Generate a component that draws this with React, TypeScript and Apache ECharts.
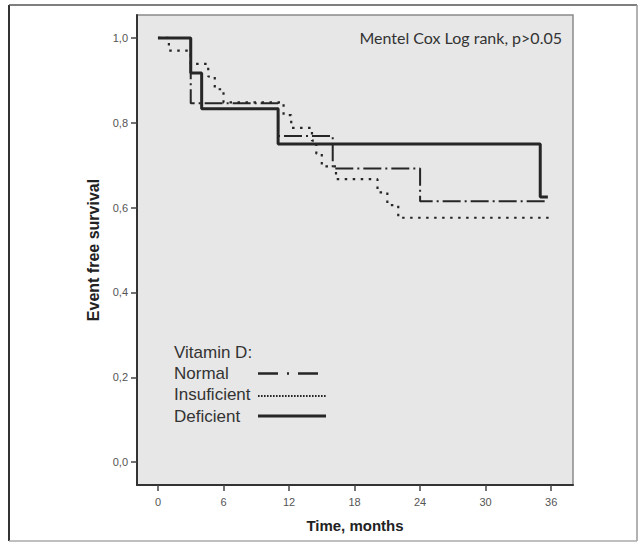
import React, { useEffect, useRef } from "react";
import * as echarts from "echarts";

// Kaplan-Meier curves: [time in months, survival after event]
const normalCurve: [number, number][] = [
  [0, 1], [3, 0.846], [11, 0.769], [16, 0.692], [24, 0.615], [35.7, 0.615],
];
const insufficientCurve: [number, number][] = [
  [0, 1], [1, 0.970], [3, 0.939], [4.6, 0.909], [5.2, 0.879], [6, 0.848],
  [11.5, 0.818], [12.2, 0.788], [14.1, 0.758], [14.5, 0.727], [15, 0.697],
  [16.3, 0.667], [20.1, 0.636], [21, 0.606], [22, 0.576], [36, 0.576],
];
const deficientCurve: [number, number][] = [
  [0, 1], [3, 0.917], [4, 0.833], [11, 0.75], [35, 0.625], [35.7, 0.625],
];
const xTicks = [0, 6, 12, 18, 24, 30, 36];
const yTicks = [0, 0.2, 0.4, 0.6, 0.8, 1.0];
const legendTitle = "Vitamin D:";
const seriesNames = ["Normal", "Insuficient", "Deficient"];
const annotation = "Mentel Cox Log rank, p>0.05";
const xName = "Time, months";
const yName = "Event free survival";

const FONT = "Liberation Sans, Arial, sans-serif";
const LINE = "#262626";

export default function App() {
  const ref = useRef<HTMLDivElement>(null);
  useEffect(() => {
    if (!ref.current) return;
    const chart = echarts.init(ref.current, null, { renderer: "svg" });
    const legendX = 174;
    const legendRows = [373, 394, 416];
    const lineX1 = 258;
    const lineX2 = 326;
    const option: any = {
      animation: false,
      backgroundColor: "#ffffff",
      grid: {
        left: 137,
        top: 15,
        right: 70,
        bottom: 58,
        show: true,
        backgroundColor: "#e7e7e7",
        borderColor: "#8a8a8a",
        borderWidth: 1.5,
      },
      xAxis: {
        type: "value",
        min: -1.92,
        max: 38,
        name: xName,
        nameLocation: "middle",
        nameGap: 33,
        nameTextStyle: { fontFamily: FONT, fontWeight: "bold", fontSize: 15, color: "#222" },
        axisLine: { show: true, onZero: false, lineStyle: { color: "#333", width: 2 } },
        axisTick: { show: true, customValues: xTicks, length: 6, lineStyle: { color: "#444", width: 1.5 } },
        axisLabel: {
          customValues: xTicks,
          fontFamily: FONT,
          fontSize: 11,
          color: "#555",
          margin: 11,
          formatter: (v: number) => String(v),
        },
        splitLine: { show: false },
      },
      yAxis: {
        type: "value",
        min: -0.054,
        max: 1.054,
        name: yName,
        nameLocation: "middle",
        nameGap: 35,
        nameTextStyle: { fontFamily: FONT, fontWeight: "bold", fontSize: 16, color: "#222" },
        axisLine: { show: true, onZero: false, lineStyle: { color: "#333", width: 2 } },
        axisTick: { show: true, customValues: yTicks, length: 6, lineStyle: { color: "#444", width: 1.5 } },
        axisLabel: {
          customValues: yTicks,
          fontFamily: FONT,
          fontSize: 11,
          color: "#555",
          margin: 9,
          formatter: (v: number) => v.toFixed(1).replace(".", ","),
        },
        splitLine: { show: false },
      },
      series: [
        {
          name: seriesNames[0],
          type: "line",
          step: "end",
          symbol: "none",
          data: normalCurve,
          lineStyle: { color: LINE, width: 2, type: [18, 4, 2, 4] },
          z: 3,
        },
        {
          name: seriesNames[1],
          type: "line",
          step: "end",
          symbol: "none",
          data: insufficientCurve,
          lineStyle: { color: LINE, width: 2.2, type: [2.5, 5.5] },
          z: 2,
        },
        {
          name: seriesNames[2],
          type: "line",
          step: "end",
          symbol: "none",
          data: deficientCurve,
          lineStyle: { color: LINE, width: 3 },
          z: 4,
        },
      ],
      graphic: [
        { type: "line", shape: { x1: 9, y1: 5, x2: 9, y2: 541 }, style: { stroke: "#333", lineWidth: 2 } },
        { type: "line", shape: { x1: 9, y1: 5, x2: 637, y2: 5 }, style: { stroke: "#555", lineWidth: 1.5 } },
        { type: "line", shape: { x1: 637, y1: 5, x2: 637, y2: 541 }, style: { stroke: "#999", lineWidth: 1.5 } },
        { type: "line", shape: { x1: 9, y1: 541, x2: 637, y2: 541 }, style: { stroke: "#aaa", lineWidth: 1.5 } },
        {
          type: "text",
          x: 562,
          y: 37,
          style: {
            text: annotation,
            fontFamily: "Lato, 'Open Sans', sans-serif",
            fontSize: 16,
            fill: "#333",
            align: "right",
            verticalAlign: "middle",
          },
          z: 10,
        },
        {
          type: "text",
          x: legendX,
          y: 352,
          style: { text: legendTitle, fontFamily: FONT, fontSize: 17, fill: "#333", verticalAlign: "middle" },
          z: 10,
        },
        ...seriesNames.map((n, i) => ({
          type: "text",
          x: legendX,
          y: legendRows[i],
          style: { text: n, fontFamily: FONT, fontSize: 17, fill: "#333", verticalAlign: "middle" },
          z: 10,
        })),
        {
          type: "line",
          shape: { x1: lineX1, y1: 373.5, x2: 320, y2: 373.5 },
          style: { stroke: LINE, lineWidth: 2.5, lineDash: [20, 9, 2, 9] },
          z: 10,
        },
        {
          type: "line",
          shape: { x1: lineX1, y1: 396, x2: lineX2, y2: 396 },
          style: { stroke: LINE, lineWidth: 2, lineDash: [1.6, 1.4] },
          z: 10,
        },
        {
          type: "line",
          shape: { x1: lineX1, y1: 416, x2: lineX2, y2: 416 },
          style: { stroke: LINE, lineWidth: 3 },
          z: 10,
        },
      ],
    };
    chart.setOption(option);
    return () => chart.dispose();
  }, []);
  return (
    <div
      ref={ref}
      style={{ position: "absolute", left: 0, top: 0, width: 643, height: 543 }}
    />
  );
}
